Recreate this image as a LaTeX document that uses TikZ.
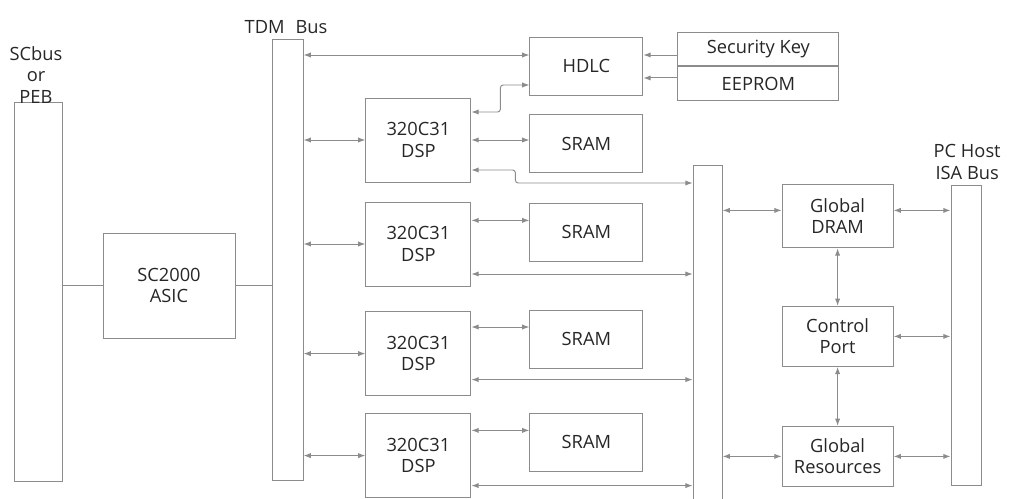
\documentclass[tikz,border=0pt]{standalone}
\usepackage{fontspec}
\setmainfont{Open Sans}
\usetikzlibrary{positioning,arrows.meta}

\begin{document}
\begin{tikzpicture}[
  lbl/.style={font=\fontsize{13}{15}\selectfont, text=black!85, inner sep=1pt, align=center},
  busbar/.style={draw=black!45, line width=0.7pt, inner sep=0pt},
  blk/.style={draw=black!45, line width=0.7pt, font=\fontsize{13}{15}\selectfont, text=black!85, align=center, inner sep=1pt},
  dspbox/.style={blk, minimum width=2.625cm, minimum height=2.1cm},
  membox/.style={blk, minimum width=2.825cm, minimum height=1.45cm},
  keybox/.style={blk, minimum width=4.025cm, minimum height=0.84cm},
  globbox/.style={blk, minimum width=2.775cm, minimum height=1.5cm},
  link/.style={draw=black!45, line width=0.7pt, {Latex[length=1.8mm,width=1.3mm]}-{Latex[length=1.8mm,width=1.3mm]}},
  feed/.style={draw=black!45, line width=0.7pt, -{Latex[length=1.8mm,width=1.3mm]}},
  plain/.style={draw=black!45, line width=0.7pt}
]
\useasboundingbox (0,0) rectangle (25.65,-12.475);

% buses
\node[busbar, minimum width=1.2cm, minimum height=9.475cm] (scbus) at (0.95,-7.31) {};
\node[busbar, minimum width=0.775cm, minimum height=11.025cm] (tdm) at (7.19,-6.49) {};
\node[busbar, minimum width=0.725cm, minimum height=8.35cm] (midbus) at (17.69,-8.3) {};
\node[busbar, minimum width=0.75cm, minimum height=7.5cm] (isa) at (24.15,-8.375) {};
\node[lbl] (scbuslbl) at (0.9,-1.875) {SCbus\\or\\PEB};
\node[lbl] (tdmlbl) at (7.15,-0.675) {TDM\hspace{0.6em}Bus};
\node[lbl] (isalbl) at (24.18,-4.05) {PC Host\\ISA Bus};

% blocks
\node[blk, minimum width=3.3cm, minimum height=2.625cm] (asic) at (4.225,-7.14) {SC2000\\ASIC};
\node[dspbox] (dsp1) at (10.46,-3.5) {320C31\\DSP};
\node[dspbox] (dsp2) at (10.46,-6.1) {320C31\\DSP};
\node[dspbox] (dsp3) at (10.46,-8.84) {320C31\\DSP};
\node[dspbox] (dsp4) at (10.46,-11.39) {320C31\\DSP};
\node[membox] (hdlc) at (14.66,-1.65) {HDLC};
\node[membox] (sram1) at (14.66,-3.59) {SRAM};
\node[membox] (sram2) at (14.66,-5.81) {SRAM};
\node[membox] (sram3) at (14.66,-8.475) {SRAM};
\node[membox] (sram4) at (14.66,-11.06) {SRAM};
\node[keybox] (seckey) at (18.96,-1.225) {Security Key};
\node[keybox, below=0pt of seckey] (eeprom) {EEPROM};
\node[globbox, minimum height=1.575cm] (dram) at (20.94,-5.41) {Global\\DRAM};
\node[globbox] (ctrl) at (20.94,-8.41) {Control\\Port};
\node[globbox] (gres) at (20.94,-11.41) {Global\\Resources};

% SCbus side
\draw[plain] (scbus.east |- asic.west) -- (asic.west);
\draw[plain] (asic.east) -- (asic.east -| tdm.west);

% TDM bus to HDLC and DSPs
\draw[link] ([yshift=2.75mm]hdlc.west -| tdm.east) -- ([yshift=2.75mm]hdlc.west);
\draw[link] (tdm.east |- dsp1.west) -- (dsp1.west);
\draw[link] (tdm.east |- dsp2.west) -- (dsp2.west);
\draw[link] (tdm.east |- dsp3.west) -- (dsp3.west);
\draw[link] (tdm.east |- dsp4.west) -- (dsp4.west);

% DSP to SRAM
\draw[link] (dsp1.east) -- (dsp1.east -| sram1.west);
\draw[link] ([yshift=3mm]sram2.west -| dsp2.east) -- ([yshift=3mm]sram2.west);
\draw[link] ([yshift=3mm]sram3.west -| dsp3.east) -- ([yshift=3mm]sram3.west);
\draw[link] ([yshift=3mm]sram4.west -| dsp4.east) -- ([yshift=3mm]sram4.west);

% HDLC links
\draw[link, rounded corners=2pt] ([yshift=7mm]dsp1.east) -- ++(0.725,0) |- ([yshift=-4.75mm]hdlc.west);
\draw[feed] ([yshift=-1.5mm]seckey.west) -- ([yshift=-1.5mm]seckey.west -| hdlc.east);
\draw[feed] ([yshift=1.4mm]eeprom.west) -- ([yshift=1.4mm]eeprom.west -| hdlc.east);

% DSP to local bus
\draw[link, rounded corners=2pt] ([yshift=-7.5mm]dsp1.east) -- ++(1.1,0) |- ([yshift=37.25mm]midbus.west);
\draw[link] ([yshift=-7.5mm]dsp2.east) -- ([yshift=-7.5mm]dsp2.east -| midbus.west);
\draw[link] ([yshift=-6.5mm]dsp3.east) -- ([yshift=-6.5mm]dsp3.east -| midbus.west);
\draw[link] ([yshift=-7.5mm]dsp4.east) -- ([yshift=-7.5mm]dsp4.east -| midbus.west);

% global side
\draw[link] ([yshift=1.5mm]dram.west -| midbus.east) -- ([yshift=1.5mm]dram.west);
\draw[link] ([yshift=1.5mm]dram.east) -- ([yshift=1.5mm]dram.east -| isa.west);
\draw[link] (dram.south) -- (ctrl.north);
\draw[link] (ctrl.south) -- (gres.north);
\draw[link] (ctrl.east) -- (ctrl.east -| isa.west);
\draw[link] (gres.west -| midbus.east) -- (gres.west);
\draw[link] (gres.east) -- (gres.east -| isa.west);

\end{tikzpicture}
\end{document}
